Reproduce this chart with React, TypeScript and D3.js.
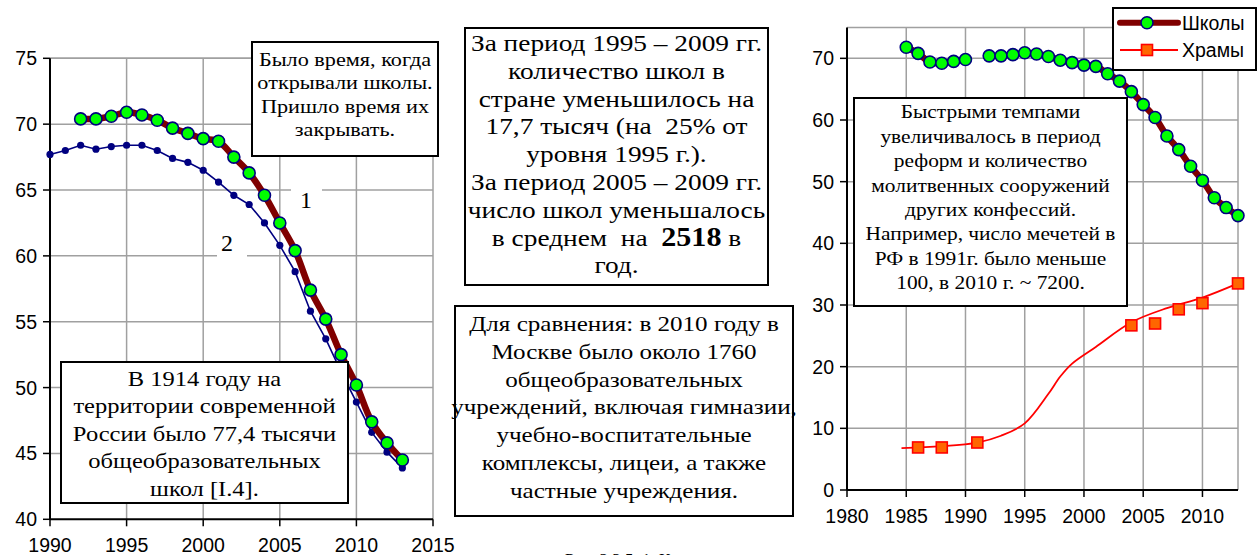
import * as d3 from 'd3';

// left chart: number of schools, thousands
const schoolYears = [1992, 1993, 1994, 1995, 1996, 1997, 1998, 1999, 2000, 2001, 2002, 2003, 2004, 2005, 2006, 2007, 2008, 2009, 2010, 2011, 2012, 2013];
const schools = [70.4, 70.4, 70.6, 70.9, 70.7, 70.3, 69.7, 69.3, 68.9, 68.7, 67.5, 66.3, 64.6, 62.5, 60.4, 57.4, 55.2, 52.5, 50.2, 47.4, 45.8, 44.5];
const schools2Years = [1990, 1991, 1992, 1993, 1994, 1995, 1996, 1997, 1998, 1999, 2000, 2001, 2002, 2003, 2004, 2005, 2006, 2007, 2008, 2009, 2010, 2011, 2012, 2013];
const schools2 = [67.7, 68.0, 68.4, 68.1, 68.3, 68.4, 68.4, 68.0, 67.4, 67.1, 66.5, 65.6, 64.6, 63.9, 62.5, 60.8, 58.8, 55.8, 53.7, 51.2, 48.9, 46.6, 45.1, 43.9];

// right chart
const earlyYears = [1985, 1986, 1987, 1988, 1989, 1990];
const earlySchools = [71.8, 70.8, 69.4, 69.2, 69.5, 69.8];
const templeYears = [1986, 1988, 1991, 2004, 2006, 2008, 2010, 2013];
const temples = [6.9, 6.9, 7.7, 26.7, 27.0, 29.3, 30.3, 33.5];
const trendYears = [1984.6, 1988, 1991, 1993, 1995, 1997, 1998, 1999, 2001, 2004, 2007, 2010, 2013];
const trend = [6.8, 7.1, 7.7, 8.8, 10.8, 15.6, 18.4, 20.5, 23.2, 27.2, 29.5, 31.2, 33.5];

const leftXTicks = [1990, 1995, 2000, 2005, 2010, 2015];
const leftYTicks = [40, 45, 50, 55, 60, 65, 70, 75];
const rightXTicks = [1980, 1985, 1990, 1995, 2000, 2005, 2010];
const rightYTicks = [0, 10, 20, 30, 40, 50, 60, 70];

const legendLabels = ['Школы', 'Храмы'];

const box1 = ['Было время, когда', 'открывали школы.', 'Пришло время их', 'закрывать.'];
const box2 = ['В 1914 году на', 'территории современной', 'России было 77,4 тысячи', 'общеобразовательных', 'школ [I.4].'];
const box3 = ['За период 1995 – 2009 гг.', 'количество школ в', 'стране уменьшилось на', '17,7 тысяч (на  25% от', 'уровня 1995 г.).', 'За период 2005 – 2009 гг.', 'число школ уменьшалось', 'в среднем  на  |2518| в', 'год.'];
const box4 = ['Для сравнения: в 2010 году в', 'Москве было около 1760', 'общеобразовательных', 'учреждений, включая гимназии,', 'учебно-воспитательные', 'комплексы, лицеи, а также', 'частные учреждения.'];
const box5 = ['Быстрыми темпами', 'увеличивалось в период', 'реформ и количество', 'молитвенных сооружений', 'других конфессий.', 'Например, число мечетей в', 'РФ в 1991г. было меньше', '100, в 2010 г. ~ 7200.'];

const SERIF = '"Liberation Serif", "Times New Roman", serif';
const SANS = '"Liberation Sans", Arial, sans-serif';
const GRID = '#a0a0a0';
const DARKRED = '#800000';
const NAVY = '#000080';
const STRETCH = 1.14; // text in the source picture is a bit wider than it is tall

function TextBox({ x, y, w, h, lines, size, lh, first }) {
    const cx = x + w / 2;
    return (
        <g>
            <rect x={x} y={y} width={w} height={h} fill="#fff" stroke="#000" strokeWidth={2} />
            <g transform={`translate(${cx},0) scale(${STRETCH},1)`}>
                <text fontFamily={SERIF} fontSize={size} textAnchor="middle" fill="#000">
                    {lines.map((l, i) => {
                        const parts = l.split('|');
                        return (
                            <tspan key={i} x={0} y={first + i * lh} xmlSpace="preserve">
                                {parts.map((p, j) => (
                                    <tspan key={j} fontWeight={j === 1 ? 'bold' : 'normal'} fontSize={j === 1 ? size * 1.1 : size}>{p}</tspan>
                                ))}
                            </tspan>
                        );
                    })}
                </text>
            </g>
        </g>
    );
}

function Axes({ x, y, xGrid, yTicks, xLabelY, xTicks }) {
    const [x0, x1] = x.range();
    const [y0, y1] = y.range();
    const yMin = y.domain()[0];
    return (
        <g>
            {yTicks.filter((t) => t !== yMin).map((t) => (
                <line key={'h' + t} x1={x0} x2={x1} y1={y(t)} y2={y(t)} stroke={GRID} strokeWidth={1.5} />
            ))}
            <line x1={x0} x2={x1} y1={y1} y2={y1} stroke={GRID} strokeWidth={1.5} />
            {xGrid.map((t) => (
                <line key={'v' + t} x1={x(t)} x2={x(t)} y1={y0} y2={y1} stroke={GRID} strokeWidth={1.5} />
            ))}
            <line x1={x1} x2={x1} y1={y0} y2={y1} stroke={GRID} strokeWidth={1.5} />
            <line x1={x0} x2={x0} y1={y0} y2={y1} stroke="#000" strokeWidth={2} />
            <line x1={x0} x2={x1} y1={y0} y2={y0} stroke="#000" strokeWidth={2} />
            {yTicks.map((t) => (
                <g key={'yt' + t}>
                    <line x1={x0 - 7} x2={x0} y1={y(t)} y2={y(t)} stroke="#000" strokeWidth={1.5} />
                    <text x={x0 - 13} y={y(t)} dy="0.36em" textAnchor="end" fontFamily={SANS} fontSize={19.5}>{t}</text>
                </g>
            ))}
            {xTicks.map((t) => (
                <g key={'xt' + t}>
                    <line x1={x(t)} x2={x(t)} y1={y0} y2={y0 + 7} stroke="#000" strokeWidth={1.5} />
                    <text x={x(t)} y={xLabelY} textAnchor="middle" fontFamily={SANS} fontSize={19.5}>{t}</text>
                </g>
            ))}
        </g>
    );
}

export default function App() {
    const width = 1257;
    const height = 555;

    // left chart scales
    const xL = d3.scaleLinear([1990, 2015], [50, 433]);
    const yL = d3.scaleLinear([40, 75], [519.3, 58.3]);
    // right chart scales
    const xR = d3.scaleLinear([1980, 2013], [847, 1238]);
    const yR = d3.scaleLinear([0, 75], [490, 27.5]);

    const smooth = d3.curveCatmullRom.alpha(0.5);
    const lineL1 = d3.line<number>().x((d, i) => xL(schoolYears[i])).y((d) => yL(d)).curve(smooth);
    const lineL2 = d3.line<number>().x((d, i) => xL(schools2Years[i])).y((d) => yL(d));
    const lineR1 = d3.line<number>().x((d, i) => xR(schoolYears[i])).y((d) => yR(d)).curve(smooth);
    const lineR0 = d3.line<number>().x((d, i) => xR(earlyYears[i])).y((d) => yR(d)).curve(smooth);
    const lineTrend = d3.line<number>().x((d, i) => xR(trendYears[i])).y((d) => yR(d)).curve(smooth);

    return (
        <svg width={width} height={height} style={{ position: 'absolute', left: 0, top: 0, background: '#fff' }}>
            <rect width={width} height={height} fill="#fff" />

            {/* left chart */}
            <Axes x={xL} y={yL} xGrid={[1995, 2000, 2005, 2010]} yTicks={leftYTicks} xLabelY={552} xTicks={leftXTicks} />
            <path d={lineL2(schools2)} fill="none" stroke={NAVY} strokeWidth={1.6} />
            {schools2.map((d, i) => (
                <circle key={i} cx={xL(schools2Years[i])} cy={yL(d)} r={3.6} fill={NAVY} />
            ))}
            <path d={lineL1(schools)} fill="none" stroke={DARKRED} strokeWidth={6.5} strokeLinejoin="round" />
            {schools.map((d, i) => (
                <circle key={i} cx={xL(schoolYears[i])} cy={yL(d)} r={6} fill="#00ff00" stroke={NAVY} strokeWidth={1.6} />
            ))}
            <rect x={291} y={184} width={31} height={30} fill="#fff" />
            <text x={306} y={208} textAnchor="middle" fontFamily={SERIF} fontSize={24}>1</text>
            <rect x={217} y={228} width={30} height={30} fill="#fff" />
            <text x={227} y={251} textAnchor="middle" fontFamily={SERIF} fontSize={24}>2</text>

            <TextBox x={252} y={42} w={186} h={114} lines={box1} size={19.5} lh={23.3} first={66} />
            <TextBox x={61} y={362} w={287} h={141} lines={box2} size={21.5} lh={27.4} first={386} />

            {/* middle text */}
            <TextBox x={465} y={28} w={303} h={257} lines={box3} size={24} lh={27.8} first={51} />
            <TextBox x={455} y={306} w={338} h={210} lines={box4} size={22} lh={27.8} first={331} />

            {/* right chart */}
            <Axes x={xR} y={yR} xGrid={[1985, 1990, 1995, 2000, 2005, 2010]} yTicks={rightYTicks} xLabelY={523} xTicks={rightXTicks} />
            <path d={lineR0(earlySchools)} fill="none" stroke={DARKRED} strokeWidth={6.5} strokeLinejoin="round" />
            <path d={lineR1(schools)} fill="none" stroke={DARKRED} strokeWidth={6.5} strokeLinejoin="round" />
            {earlySchools.map((d, i) => (
                <circle key={'e' + i} cx={xR(earlyYears[i])} cy={yR(d)} r={6} fill="#00ff00" stroke={NAVY} strokeWidth={1.6} />
            ))}
            {schools.map((d, i) => (
                <circle key={i} cx={xR(schoolYears[i])} cy={yR(d)} r={6} fill="#00ff00" stroke={NAVY} strokeWidth={1.6} />
            ))}
            <path d={lineTrend(trend)} fill="none" stroke="#ff0000" strokeWidth={1.8} />
            {temples.map((d, i) => (
                <rect key={i} x={xR(templeYears[i]) - 5.5} y={yR(d) - 5.5} width={11} height={11} fill="#ff6600" stroke="#ff0000" strokeWidth={1.6} />
            ))}

            <TextBox x={854} y={98} w={273} h={208} lines={box5} size={18.8} lh={24.4} first={118.5} />

            {/* legend */}
            <g>
                <rect x={1113} y={8} width={143} height={62} fill="#fff" stroke="#000" strokeWidth={2} />
                <line x1={1120} x2={1178} y1={22.7} y2={22.7} stroke={DARKRED} strokeWidth={6} strokeLinecap="round" />
                <circle cx={1147} cy={22.7} r={6} fill="#00ff00" stroke={NAVY} strokeWidth={1.6} />
                <line x1={1120} x2={1178} y1={50} y2={50} stroke="#ff0000" strokeWidth={1.8} />
                <rect x={1141.5} y={44.5} width={11} height={11} fill="#ff6600" stroke="#ff0000" strokeWidth={1.6} />
                <text x={1182} y={29.5} fontFamily={SANS} fontSize={19.5}>{legendLabels[0]}</text>
                <text x={1182} y={57} fontFamily={SANS} fontSize={19.5}>{legendLabels[1]}</text>
            </g>

            {/* caption, clipped at the bottom */}
            <text x={565} y={565} fontFamily={SERIF} fontSize={17}>Рис. 2.3.5. 1. Количество школ</text>
        </svg>
    );
}
